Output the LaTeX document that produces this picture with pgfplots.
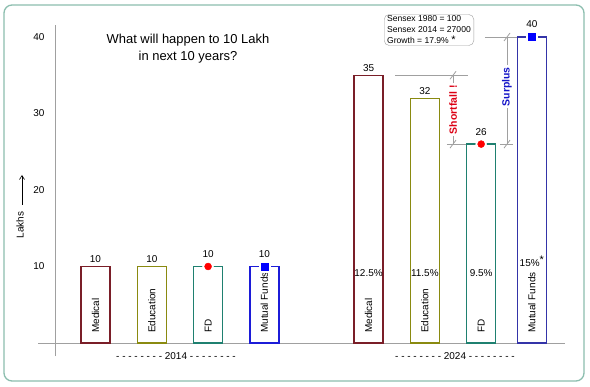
\documentclass[border=0pt]{standalone}
\usepackage{pgfplots}
\pgfplotsset{compat=1.18}
\usepackage{fontspec}
\setmainfont{Liberation Sans}
\usetikzlibrary{arrows.meta}
\definecolor{medc}{RGB}{122,30,40}
\definecolor{educ}{RGB}{138,138,16}
\definecolor{fdc}{RGB}{31,128,112}
\definecolor{mfa}{RGB}{28,28,216}
\definecolor{mfb}{RGB}{52,52,168}
\definecolor{framec}{RGB}{140,190,175}
\definecolor{axc}{RGB}{160,160,160}
\definecolor{sfred}{RGB}{220,0,20}
\definecolor{spblue}{RGB}{20,20,200}
\tikzset{inbar/.style={yshift=10bp, rotate=90, anchor=west, inner sep=0pt, font=\fontsize{10}{12}\selectfont}}
\begin{document}
\begin{tikzpicture}
\useasboundingbox (0,0) rectangle (590bp,387bp);
\fill[white] (0,0) rectangle (590bp,387bp);
\draw[framec, line width=1.3bp, rounded corners=8bp] (4bp,6bp) rectangle (584bp,382bp);
% title
\node[align=center, font=\fontsize{13}{17}\selectfont] at (188bp,338.5bp) {What will happen to 10 Lakh\\in next 10 years?};
% sensex box
\node[draw=axc, rounded corners=5bp, inner xsep=3bp, inner ysep=1.5bp, align=left, font=\fontsize{8.6}{11}\selectfont] at (429bp,357bp)
  {Sensex 1980 = 100\\Sensex 2014 = 27000\\Growth = 17.9\% {\fontsize{11}{11}\selectfont *}};
% Lakhs label
\node[rotate=90, font=\fontsize{10}{12}\selectfont] at (20bp,162bp) {Lakhs};
\draw[-{Straight Barb[length=4bp,width=5bp]}, line width=0.6bp] (22bp,182bp) -- (22bp,212bp);
\begin{axis}[
  at={(38bp,31bp)}, anchor=south west,
  scale only axis, width=527bp, height=331bp,
  xmin=-1.021, xmax=8.339, ymin=-1.7, ymax=41.57,
  axis line style={draw=none},
  xtick=\empty,
  ytick={10,20,30,40},
  major tick length=0pt,
  yticklabel style={font=\fontsize{10}{12}\selectfont, xshift=10bp},
  /pgf/number format/assume math mode=true,
  clip=false,
  nodes near coords style={font=\fontsize{10}{12}\selectfont, anchor=south},
]
\draw[axc, line width=0.8bp] (axis cs:-1.021,0) -- (axis cs:8.339,0);
\draw[axc, line width=0.8bp] (axis cs:-0.719,-1.7) -- (axis cs:-0.719,41.57);
% bars
\addplot[ybar, bar width=0.515, bar shift=0pt, draw=medc, fill=white, line width=1.3bp, nodes near coords] coordinates {(0,10) (4.85,35)};
\addplot[ybar, bar width=0.515, bar shift=0pt, draw=educ, fill=white, line width=1.3bp, nodes near coords] coordinates {(1,10) (5.85,32)};
\addplot[ybar, bar width=0.515, bar shift=0pt, draw=fdc, fill=white, line width=1.3bp, nodes near coords, nodes near coords style={yshift=5bp}] coordinates {(2,10) (6.85,26)};
\addplot[ybar, bar width=0.515, bar shift=0pt, draw=mfa, fill=white, line width=1.3bp, nodes near coords, nodes near coords style={yshift=5bp}] coordinates {(3,10)};
\addplot[ybar, bar width=0.515, bar shift=0pt, draw=mfb, fill=white, line width=1.3bp, nodes near coords, nodes near coords style={yshift=5bp}] coordinates {(7.75,40)};
% markers
\addplot[only marks, mark=*, mark size=5.5bp, white] coordinates {(2,10) (6.85,26)};
\addplot[only marks, mark=*, mark size=3.5bp, red] coordinates {(2,10) (6.85,26)};
\addplot[only marks, mark=square*, mark size=5.5bp, white] coordinates {(3,10) (7.75,40)};
\addplot[only marks, mark=square*, mark size=3.5bp, blue] coordinates {(3,10) (7.75,40)};
% in-bar labels
\node[inbar] at (axis cs:0,0) {Medical};
\node[inbar] at (axis cs:1,0) {Education};
\node[inbar] at (axis cs:2,0) {FD};
\node[inbar] at (axis cs:3,0) {Mutual Funds};
\node[inbar] at (axis cs:4.85,0) {Medical};
\node[inbar] at (axis cs:5.85,0) {Education};
\node[inbar] at (axis cs:6.85,0) {FD};
\node[inbar] at (axis cs:7.75,0) {Mutual Funds};
\node[font=\fontsize{10}{12}\selectfont, inner sep=0pt] at (axis cs:4.85,9.15) {12.5\%};
\node[font=\fontsize{10}{12}\selectfont, inner sep=0pt] at (axis cs:5.85,9.15) {11.5\%};
\node[font=\fontsize{10}{12}\selectfont, inner sep=0pt] at (axis cs:6.85,9.15) {9.5\%};
\node[font=\fontsize{10}{12}\selectfont, inner sep=0pt] at (axis cs:7.75,10.7) {15\%\raisebox{3bp}{\fontsize{11}{11}\selectfont *}};
% year labels
\node[font=\fontsize{10}{12}\selectfont, yshift=-13bp] at (axis cs:1.43,0) {- - - - - - - - 2014 - - - - - - - -};
\node[font=\fontsize{10}{12}\selectfont, yshift=-13bp] at (axis cs:6.385,0) {- - - - - - - - 2024 - - - - - - - -};
% shortfall
\draw[axc, line width=0.8bp] (axis cs:5.32,35) -- (axis cs:6.616,35);
\draw[axc, line width=0.8bp] (axis cs:6.35,35) -- (axis cs:6.35,26);
\draw[axc, line width=0.8bp] (axis cs:6.243,26) -- (axis cs:6.581,26);
\draw[axc, line width=0.8bp] (axis cs:6.35,35) ++(-3bp,-4bp) -- ++(6bp,8bp);
\draw[axc, line width=0.8bp] (axis cs:6.35,26) ++(-3bp,-4bp) -- ++(6bp,8bp);
\node[rotate=90, fill=white, inner xsep=2bp, inner ysep=1bp, text=sfred, font=\bfseries\fontsize{10.5}{12}\selectfont] at (axis cs:6.35,30.5) {Shortfall !};
% surplus
\draw[axc, line width=0.8bp] (axis cs:6.918,40) -- (axis cs:7.487,40);
\draw[axc, line width=0.8bp] (axis cs:7.309,40) -- (axis cs:7.309,26);
\draw[axc, line width=0.8bp] (axis cs:7.185,26) -- (axis cs:7.416,26);
\draw[axc, line width=0.8bp] (axis cs:7.309,40) ++(-3bp,-4bp) -- ++(6bp,8bp);
\draw[axc, line width=0.8bp] (axis cs:7.309,26) ++(-3bp,-4bp) -- ++(6bp,8bp);
\node[rotate=90, fill=white, inner xsep=2bp, inner ysep=1bp, text=spblue, font=\bfseries\fontsize{10.5}{12}\selectfont] at (axis cs:7.309,33.5) {Surplus};
\end{axis}
\end{tikzpicture}
\end{document}
